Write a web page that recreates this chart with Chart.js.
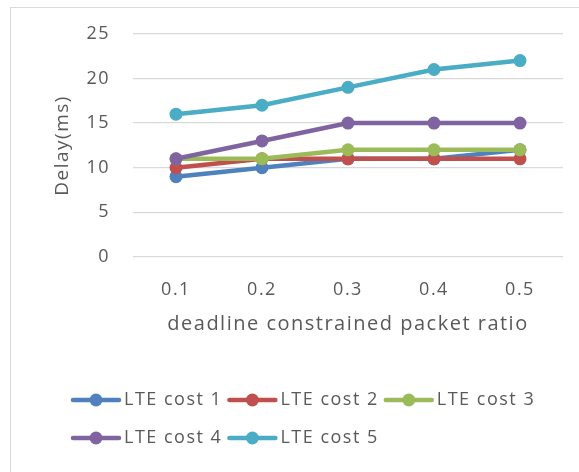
<!DOCTYPE html>
<html>
<head>
<meta charset="utf-8">
<script src="https://cdn.jsdelivr.net/npm/chart.js@4/dist/chart.umd.min.js"></script>
<style>
  html, body { margin: 0; padding: 0; background: #ffffff; }
  #wrap { position: relative; width: 579px; height: 472px; }
</style>
</head>
<body>
<div id="wrap"><canvas id="chart" width="579" height="472"></canvas></div>
<script>
// Packet-ratio categories and measured delay per LTE cost setting
const categories = ['0.1', '0.2', '0.3', '0.4', '0.5'];
const seriesNames = ['LTE cost 1', 'LTE cost 2', 'LTE cost 3', 'LTE cost 4', 'LTE cost 5'];
const cost1 = [9, 10, 11, 11, 12];
const cost2 = [10, 11, 11, 11, 11];
const cost3 = [11, 11, 12, 12, 12];
const cost4 = [11, 13, 15, 15, 15];
const cost5 = [16, 17, 19, 21, 22];
const yTicks = [0, 5, 10, 15, 20, 25];

const colors = ['#4F81BD', '#C0504D', '#9BBB59', '#8064A2', '#4BACC6'];
const textColor = '#595959';
const fontFamily = '"Open Sans", "Noto Sans", sans-serif';
const letterSpacing = '1.5px';

const seriesValues = [cost1, cost2, cost3, cost4, cost5];
const datasets = seriesValues.map((vals, i) => ({
  label: seriesNames[i],
  data: vals,
  borderColor: colors[i],
  backgroundColor: colors[i],
  pointBackgroundColor: colors[i],
  pointBorderColor: colors[i],
  borderWidth: 4.5,
  pointRadius: 6.5,
  pointBorderWidth: 0,
  tension: 0,
  order: seriesValues.length - 1 - i
}));

// Outer frame, wide text spacing and two-row legend (line + marker + label)
const decorations = {
  id: 'decorations',
  beforeDraw(chart) {
    const ctx = chart.ctx;
    ctx.letterSpacing = letterSpacing;
    ctx.save();
    ctx.strokeStyle = '#d9d9d9';
    ctx.lineWidth = 1;
    ctx.strokeRect(10.5, 7.5, 800, 800);
    ctx.restore();
  },
  afterDraw(chart) {
    const ctx = chart.ctx;
    ctx.save();
    ctx.letterSpacing = letterSpacing;
    ctx.font = '18px ' + fontFamily;
    ctx.textBaseline = 'middle';
    ctx.textAlign = 'left';
    const startX = 71, rowY = [400, 438], maxRight = 560;
    const lineLen = 50, textGap = 3, itemGap = 5;
    let x = startX, row = 0;
    chart.data.datasets.forEach((ds) => {
      const w = lineLen + textGap + ctx.measureText(ds.label).width;
      if (x + w > maxRight && x > startX) { row++; x = startX; }
      const y = rowY[row];
      ctx.strokeStyle = ds.borderColor;
      ctx.lineWidth = 4.5;
      ctx.lineCap = 'round';
      ctx.beginPath();
      ctx.moveTo(x + 2, y);
      ctx.lineTo(x + lineLen - 2, y);
      ctx.stroke();
      ctx.fillStyle = ds.borderColor;
      ctx.beginPath();
      ctx.arc(x + lineLen / 2, y, 6.5, 0, Math.PI * 2);
      ctx.fill();
      ctx.fillStyle = textColor;
      ctx.fillText(ds.label, x + lineLen + textGap, y);
      x += w + itemGap;
    });
    ctx.restore();
  }
};

new Chart(document.getElementById('chart'), {
  type: 'line',
  data: { labels: categories, datasets },
  options: {
    responsive: false,
    animation: false,
    layout: { padding: { left: 0, top: 33, right: 16, bottom: 127 } },
    plugins: { legend: { display: false }, tooltip: { enabled: false } },
    scales: {
      x: {
        offset: true,
        grid: { display: false, drawTicks: false },
        border: { display: false },
        ticks: { color: textColor, font: { family: fontFamily, size: 18 }, padding: 22 },
        title: {
          display: true,
          text: 'deadline constrained packet ratio',
          color: textColor,
          font: { family: fontFamily, size: 20 },
          padding: { top: 0, bottom: 9 }
        },
        afterFit(scale) { scale.height = 88; }
      },
      y: {
        min: 0,
        max: 25,
        afterBuildTicks(scale) { scale.ticks = yTicks.map(v => ({ value: v })); },
        grid: { color: '#d9d9d9', lineWidth: 1.3, drawTicks: false },
        border: { display: false },
        ticks: { color: textColor, font: { family: fontFamily, size: 18 }, padding: 23 },
        title: {
          display: true,
          text: 'Delay(ms)',
          color: textColor,
          font: { family: fontFamily, size: 19 },
          padding: { top: 51, bottom: 0 }
        },
        afterFit(scale) { scale.width = 133; }
      }
    }
  },
  plugins: [decorations]
});
</script>
</body>
</html>
